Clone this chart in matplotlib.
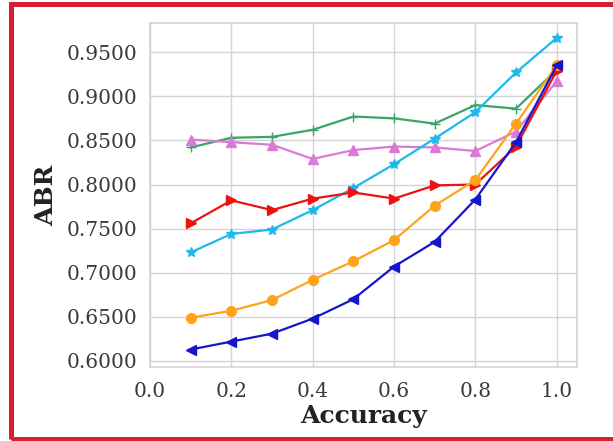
import matplotlib
matplotlib.use("Agg")
import matplotlib.pyplot as plt
from matplotlib.patches import Rectangle
from matplotlib.ticker import FormatStrFormatter

x = [0.1, 0.2, 0.3, 0.4, 0.5, 0.6, 0.7, 0.8, 0.9, 1.0]
green = [0.842, 0.853, 0.854, 0.862, 0.877, 0.875, 0.869, 0.890, 0.886, 0.930]
pink = [0.851, 0.848, 0.845, 0.829, 0.839, 0.843, 0.842, 0.838, 0.860, 0.917]
cyan = [0.723, 0.744, 0.749, 0.771, 0.796, 0.823, 0.852, 0.882, 0.927, 0.966]
red = [0.756, 0.782, 0.771, 0.784, 0.791, 0.784, 0.799, 0.800, 0.843, 0.929]
orange = [0.649, 0.657, 0.669, 0.692, 0.713, 0.737, 0.776, 0.805, 0.869, 0.935]
blue = [0.613, 0.622, 0.631, 0.648, 0.670, 0.707, 0.735, 0.783, 0.848, 0.935]

xticks = [0.0, 0.2, 0.4, 0.6, 0.8, 1.0]
yticks = [0.60, 0.65, 0.70, 0.75, 0.80, 0.85, 0.90, 0.95]

plt.rcParams['font.family'] = ['DejaVu Serif']

fig = plt.figure(figsize=(6.13, 4.41), dpi=100)
ax = fig.add_axes([0.2447, 0.1678, 0.6966, 0.780])

series = [
    (green, '#3aa56a', '+', 7),
    (pink, '#da7ad6', '^', 7),
    (cyan, '#1fb8ea', '*', 7),
    (red, '#ee1111', '>', 7),
    (orange, '#ffa31a', 'o', 7),
    (blue, '#1515d0', '<', 7),
]
for ys, c, m, ms in series:
    ax.plot(x, ys, color=c, marker=m, markersize=ms, linewidth=1.6)

ax.set_xlim(0.0, 1.05)
ax.set_ylim(0.5932, 0.983)
ax.set_xticks(xticks)
ax.set_yticks(yticks)
ax.yaxis.set_major_formatter(FormatStrFormatter('%.4f'))
ax.xaxis.set_major_formatter(FormatStrFormatter('%.1f'))
ax.grid(True, color='#d4d4d4', linewidth=1.0)
ax.set_axisbelow(True)
for s in ax.spines.values():
    s.set_color('#d4d4d4')
    s.set_linewidth(1.2)
ax.tick_params(axis='both', length=0, labelsize=14.5, colors='#3a3a3a')
ax.tick_params(axis='y', pad=9)
ax.tick_params(axis='x', pad=11)
ax.set_xlabel('Accuracy', fontsize=18, fontweight='bold', color='#222222', labelpad=2)
ax.set_ylabel('ABR', fontsize=18, fontweight='bold', color='#222222', labelpad=6)

fig.patches.append(Rectangle((0.018, 0.0045), 1.2, 0.9853, transform=fig.transFigure,
                             fill=False, edgecolor='#d7202e', linewidth=3.6))

fig.savefig('out.png', dpi=100)
